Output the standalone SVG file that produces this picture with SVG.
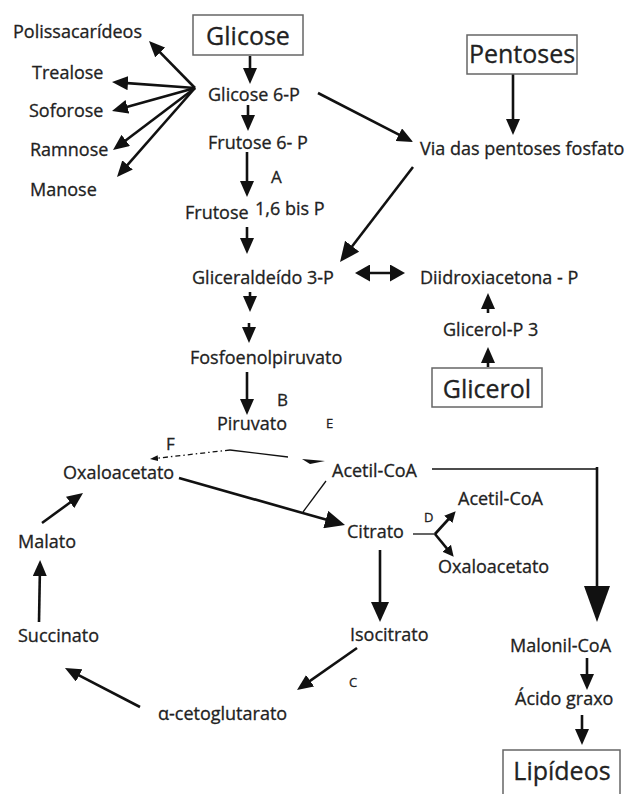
<svg xmlns="http://www.w3.org/2000/svg" width="633" height="794" viewBox="0 0 633 794">
<style>
text{font-family:"Open Sans","Liberation Sans",sans-serif;fill:#222;font-size:18px;stroke:#222;stroke-width:0.3}
.big{font-size:25px}
.lt{font-size:17px}
.sm{font-size:13px}
.box{fill:#fff;stroke:#666;stroke-width:1.5}
.a{fill:none;stroke:#111;stroke-width:2.6}
.t{fill:none;stroke:#111;stroke-width:1.3}
</style>
<defs>
<marker id="m1" markerUnits="userSpaceOnUse" viewBox="0 0 16 14" refX="11" refY="7" markerWidth="16" markerHeight="14" orient="auto-start-reverse"><path d="M0,0 L16,7 L0,14 z" fill="#111"/></marker>
<marker id="m2" markerUnits="userSpaceOnUse" viewBox="0 0 20 18" refX="12" refY="9" markerWidth="20" markerHeight="18" orient="auto"><path d="M0,0 L20,9 L0,18 z" fill="#111"/></marker>
<marker id="m3" markerUnits="userSpaceOnUse" viewBox="0 0 36 26" refX="20" refY="13" markerWidth="36" markerHeight="26" orient="auto"><path d="M0,0 L36,13 L0,26 z" fill="#111"/></marker>
<marker id="m4" markerUnits="userSpaceOnUse" viewBox="0 0 11 11" refX="6" refY="5.5" markerWidth="11" markerHeight="11" orient="auto"><path d="M0,0 L11,5.5 L0,11 z" fill="#111"/></marker>
<marker id="m5" markerUnits="userSpaceOnUse" viewBox="0 0 8 6" refX="5" refY="3" markerWidth="8" markerHeight="6" orient="auto"><path d="M0,0 L8,3 L0,6 z" fill="#111"/></marker>
<marker id="m6" markerUnits="userSpaceOnUse" viewBox="0 0 15 17" refX="10" refY="8.5" markerWidth="15" markerHeight="17" orient="auto-start-reverse"><path d="M0,0 L15,8.5 L0,17 z" fill="#111"/></marker>
</defs>

<g id="connectors">
<path class="a" d="M250,56 L250,79" marker-end="url(#m1)"/>
<path class="a" d="M248,105 L248,126" marker-end="url(#m1)"/>
<path class="a" d="M247,152 L247,192" marker-end="url(#m1)"/>
<path class="a" d="M247,227 L247,249" marker-end="url(#m1)"/>
<path class="a" d="M250,292 L250,307" marker-end="url(#m1)"/>
<path class="a" d="M249,323 L249,338" marker-end="url(#m1)"/>
<path class="a" d="M247,372 L247,410" marker-end="url(#m1)"/>
<path class="a" stroke-width="3" d="M195,88 L152.5,44.6" marker-end="url(#m1)"/>
<path class="a" stroke-width="3" d="M195,88 L117,82.4" marker-end="url(#m1)"/>
<path class="a" stroke-width="3" d="M195,88 L116.8,109.7" marker-end="url(#m1)"/>
<path class="a" stroke-width="3" d="M195,88 L117,147" marker-end="url(#m1)"/>
<path class="a" stroke-width="3" d="M195,88 L120.3,173.2" marker-end="url(#m1)"/>
<path class="a" d="M318,93 L408.6,139.7" marker-end="url(#m1)"/>
<path class="a" d="M513,74 L513,130" marker-end="url(#m1)"/>
<path class="a" d="M413,167 L344.9,255.7" marker-end="url(#m2)"/>
<path class="a" stroke-width="4" d="M360,273 L400,273" marker-start="url(#m6)" marker-end="url(#m6)"/>
<path class="a" d="M488,313 L488,298" marker-end="url(#m1)"/>
<path class="a" d="M488,367 L488,352" marker-end="url(#m1)"/>
<path class="t" stroke-width="1.5" stroke-dasharray="5,3,1.5,3" d="M230,450 L153,458.7" marker-end="url(#m5)"/>
<path class="t" d="M230,450 L288,457"/>
<polygon points="302,459 325,461 310,464" fill="#111"/>
<path class="a" stroke-width="4" d="M179,478 L337.3,522.8" marker-end="url(#m2)"/>
<path class="t" d="M326,481 L303,512"/>
<path class="t" stroke-width="1.5" d="M432,469 L597,469"/>
<path class="a" stroke-width="4.5" d="M597,467 L597,606" marker-end="url(#m3)"/>
<path class="t" stroke-width="1.5" d="M413,534 L436,534"/>
<path class="a" stroke-width="3" d="M435,534 L452.3,515" marker-end="url(#m4)"/>
<path class="a" stroke-width="3" d="M435,534 L450.5,552.9" marker-end="url(#m4)"/>
<path class="a" stroke-width="4.5" d="M380,550 L380,614" marker-end="url(#m2)"/>
<path class="a" stroke-width="3" d="M357,648 L301.1,687.1" marker-end="url(#m1)"/>
<path class="a" stroke-width="3" d="M140,707 L69.4,670.3" marker-end="url(#m1)"/>
<path class="a" stroke-width="2.2" d="M39,622 L40,565" marker-end="url(#m1)"/>
<path class="a" stroke-width="2.2" d="M42,523 L79,496" marker-end="url(#m1)"/>
<path class="a" stroke-width="2.2" d="M587,658 L587,685" marker-end="url(#m1)"/>
<path class="a" stroke-width="2.2" d="M582,715 L582,740" marker-end="url(#m1)"/>
</g>

<g id="glicose"><rect class="box" x="193" y="15" width="110" height="40"/><text class="big" x="248" y="45" text-anchor="middle">Glicose</text></g>
<g id="pentoses"><rect class="box" x="467" y="35" width="110" height="39"/><text class="big" x="522" y="63" text-anchor="middle">Pentoses</text></g>
<g id="glicerol"><rect class="box" x="432" y="368" width="110" height="39"/><text class="big" x="487" y="398" text-anchor="middle">Glicerol</text></g>
<g id="lipideos"><rect class="box" x="503" y="750" width="117" height="60"/><text class="big" x="562" y="780" text-anchor="middle">Lipídeos</text></g>

<g id="polissacarideos"><text x="13" y="38">Polissacarídeos</text></g>
<g id="trealose"><text x="32" y="79">Trealose</text></g>
<g id="soforose"><text x="29" y="117">Soforose</text></g>
<g id="ramnose"><text x="30" y="156">Ramnose</text></g>
<g id="manose"><text x="30" y="196">Manose</text></g>
<g id="glicose6p"><text x="208" y="101">Glicose 6-P</text></g>
<g id="frutose6p"><text x="208" y="149">Frutose 6- P</text></g>
<g id="labelA"><text class="lt" x="271" y="183">A</text></g>
<g id="frutose16"><text x="185" y="219">Frutose</text><text x="255" y="215">1,6 bis P</text></g>
<g id="via"><text x="420" y="155">Via das pentoses fosfato</text></g>
<g id="gliceraldeido"><text x="192" y="284">Gliceraldeído 3-P</text></g>
<g id="diidroxi"><text x="420" y="284">Diidroxiacetona - P</text></g>
<g id="glicerolp3"><text x="443" y="336">Glicerol-P 3</text></g>
<g id="fosfo"><text x="190" y="364">Fosfoenolpiruvato</text></g>
<g id="labelB"><text class="lt" x="277" y="406">B</text></g>
<g id="piruvato"><text x="217" y="430">Piruvato</text></g>
<g id="labelE"><text class="sm" x="326" y="428">E</text></g>
<g id="labelF"><text class="lt" x="166" y="450">F</text></g>
<g id="oxalo1"><text x="63" y="479">Oxaloacetato</text></g>
<g id="acetil1"><text x="332" y="477">Acetil-CoA</text></g>
<g id="acetil2"><text x="458" y="505">Acetil-CoA</text></g>
<g id="labelD"><text class="sm" x="424" y="522">D</text></g>
<g id="citrato"><text x="347" y="538">Citrato</text></g>
<g id="oxalo2"><text x="438" y="573">Oxaloacetato</text></g>
<g id="malato"><text x="18" y="548">Malato</text></g>
<g id="succinato"><text x="18" y="642">Succinato</text></g>
<g id="isocitrato"><text x="350" y="641">Isocitrato</text></g>
<g id="labelC"><text class="sm" x="349" y="687">C</text></g>
<g id="cetoglutarato"><text x="158" y="720">α-cetoglutarato</text></g>
<g id="malonil"><text x="510" y="652">Malonil-CoA</text></g>
<g id="acido"><text x="515" y="705">Ácido graxo</text></g>
</svg>
